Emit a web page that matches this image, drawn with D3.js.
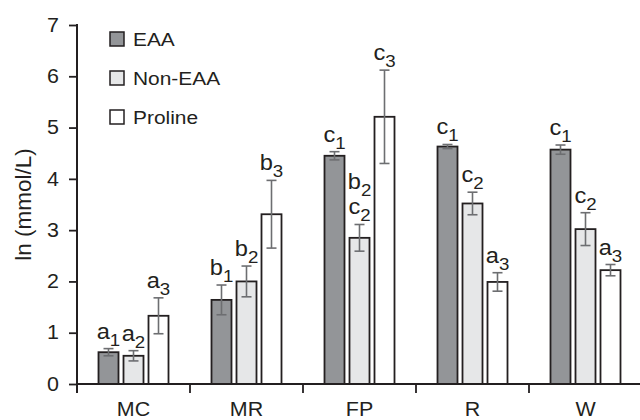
<!DOCTYPE html>
<html>
<head>
<meta charset="utf-8" />
<title>Amino acids</title>
<script src="https://d3js.org/d3.v7.min.js"></script>
<style>
  body { margin: 0; background: #fff; }
  text { font-family: "Liberation Sans", Arial, sans-serif; fill: #231f20; }
</style>
</head>
<body>
<script>
  // data
  var categories = ['MC', 'MR', 'FP', 'R', 'W'];
  var series = ['EAA', 'Non-EAA', 'Proline'];
  var eaa     = [0.62, 1.64, 4.45, 4.63, 4.57];
  var eaaErr  = [0.07, 0.29, 0.08, 0.04, 0.09];
  var neaa    = [0.55, 2.00, 2.85, 3.52, 3.02];
  var neaaErr = [0.10, 0.30, 0.26, 0.22, 0.32];
  var pro     = [1.33, 3.31, 5.21, 1.99, 2.22];
  var proErr  = [0.35, 0.66, 0.91, 0.18, 0.11];
  // significance letters (stacked top to bottom), subscript = series index
  var eaaLetters  = [['a'], ['b'], ['c'], ['c'], ['c']];
  var neaaLetters = [['a'], ['b'], ['b', 'c'], ['c'], ['c']];
  var proLetters  = [['a'], ['b'], ['c'], ['a'], ['a']];
  var yTicks = [0, 1, 2, 3, 4, 5, 6, 7];

  var fills = ['#939598', '#e6e7e8', '#ffffff'];
  var values = [eaa, neaa, pro], errs = [eaaErr, neaaErr, proErr],
      letters = [eaaLetters, neaaLetters, proLetters];

  var W = 640, H = 420,
      mLeft = 77, mRight = 642, mTop = 25, base = 384,
      kx = 1.1; // the original type is set a bit wide

  // widen text horizontally around its own x anchor
  function stretch(sel) {
    sel.attr('transform', function () {
      var x0 = +this.getAttribute('x') || 0;
      return `translate(${x0 * (1 - kx)},0) scale(${kx},1)`;
    });
  }

  var svg = d3.select('body').append('svg')
      .attr('width', W).attr('height', H);

  var x = d3.scaleBand().domain(categories).range([mLeft, mRight]);
  var y = d3.scaleLinear().domain([0, 7]).range([base, mTop]);
  var bw = x.bandwidth();
  var xs = d3.scaleBand().domain(series)
      .range([bw / 2 - 37.5, bw / 2 + 37.5])
      .paddingInner(0.2).paddingOuter(0.1);

  var rows = [];
  categories.forEach(function (c, i) {
    series.forEach(function (s, j) {
      rows.push({ cat: c, s: s, j: j, v: values[j][i], e: errs[j][i], lab: letters[j][i] });
    });
  });

  // bars
  svg.append('g').selectAll('rect')
    .data(rows).enter().append('rect')
      .attr('x', d => x(d.cat) + xs(d.s))
      .attr('y', d => y(d.v))
      .attr('width', xs.bandwidth())
      .attr('height', d => base - y(d.v))
      .attr('fill', d => fills[d.j])
      .attr('stroke', '#231f20')
      .attr('stroke-width', 1.8);

  // error bars
  var eg = svg.append('g').attr('stroke', '#6d6e71').attr('stroke-width', 1.6);
  rows.forEach(function (d) {
    var cx = x(d.cat) + xs(d.s) + xs.bandwidth() / 2;
    eg.append('line').attr('x1', cx).attr('x2', cx)
      .attr('y1', y(d.v + d.e)).attr('y2', y(d.v - d.e));
    [d.v + d.e, d.v - d.e].forEach(function (t) {
      eg.append('line').attr('x1', cx - 5).attr('x2', cx + 5)
        .attr('y1', y(t)).attr('y2', y(t));
    });
  });

  // letters
  rows.forEach(function (d) {
    var cx = x(d.cat) + xs(d.s) + xs.bandwidth() / 2;
    var n = d.lab.length;
    d.lab.forEach(function (l, k) {
      var t = svg.append('text')
        .attr('x', cx)
        .attr('y', y(d.v + d.e) - 10 - (n - 1 - k) * 25)
        .attr('text-anchor', 'middle');
      t.append('tspan').style('font-size', '21.5px').text(l);
      t.append('tspan').style('font-size', '17px').attr('dy', 7).text(d.j + 1);
      stretch(t);
    });
  });

  // y axis
  var ay = svg.append('g')
      .attr('transform', `translate(${mLeft},0)`)
      .call(d3.axisLeft(y).tickValues(yTicks).tickSize(8).tickPadding(10).tickFormat(d3.format('d')));
  ay.select('.domain').remove();
  ay.selectAll('line').attr('stroke', '#231f20').attr('stroke-width', 1.8);
  ay.selectAll('text').style('font-size', '19.5px').attr('fill', '#231f20').call(stretch);
  svg.append('line')
    .attr('x1', mLeft).attr('x2', mLeft)
    .attr('y1', y(7) - 1).attr('y2', base + 9)
    .attr('stroke', '#231f20').attr('stroke-width', 2);

  // x axis
  var ax = svg.append('g')
      .attr('transform', `translate(0,${base})`)
      .call(d3.axisBottom(x).tickSize(0).tickPadding(18));
  ax.select('.domain').remove();
  ax.selectAll('text').style('font-size', '19.5px').attr('fill', '#231f20').call(stretch);
  svg.append('line')
    .attr('x1', mLeft).attr('x2', W)
    .attr('y1', base).attr('y2', base)
    .attr('stroke', '#231f20').attr('stroke-width', 2);
  svg.append('g').selectAll('line')
    .data(categories.slice(0, -1)).enter().append('line')
      .attr('x1', d => x(d) + bw).attr('x2', d => x(d) + bw)
      .attr('y1', base).attr('y2', base + 9)
      .attr('stroke', '#231f20').attr('stroke-width', 1.8);

  // y title
  svg.append('text')
    .attr('transform', `translate(31,${(mTop + base) / 2}) rotate(-90)`)
    .attr('text-anchor', 'middle')
    .style('font-size', '22.5px')
    .text('ln (mmol/L)');

  // legend
  var lg = svg.append('g').selectAll('g')
    .data(series).enter().append('g')
      .attr('transform', (d, i) => `translate(110,${39 + i * 39})`);
  lg.append('rect')
    .attr('x', 0).attr('y', -7).attr('width', 14).attr('height', 14)
    .attr('fill', (d, i) => fills[i])
    .attr('stroke', '#231f20').attr('stroke-width', 1.5);
  lg.append('text')
    .attr('x', 23).attr('dy', '0.36em')
    .style('font-size', '19px')
    .text(d => d)
    .call(stretch);
</script>
</body>
</html>
